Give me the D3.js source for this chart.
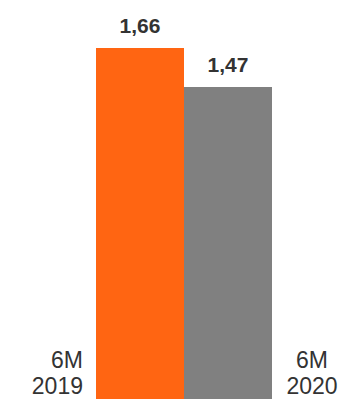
<!DOCTYPE html>
<html>
<head>
<meta charset="utf-8">
<script src="https://cdn.jsdelivr.net/npm/d3@7"></script>
<style>
  html, body { margin: 0; padding: 0; background: #fff; }
  svg { display: block; }
</style>
</head>
<body>
<svg id="chart" width="341" height="399" shape-rendering="crispEdges"></svg>
<script>
const categories = ["6M 2019", "6M 2020"];
const values = [1.66, 1.47];
const valueLabels = ["1,66", "1,47"];
const colors = ["#FF6512", "#808080"];

const W = 341, H = 399;
const svg = d3.select("#chart");

const x = d3.scaleBand().domain(categories).range([96, 272]).paddingInner(0).paddingOuter(0);
const y = d3.scaleLinear().domain([-0.05, 1.66]).range([H, 48]);

svg.selectAll("rect.bar")
  .data(categories)
  .enter().append("rect")
  .attr("class", "bar")
  .attr("x", d => x(d))
  .attr("width", x.bandwidth())
  .attr("y", (d, i) => y(values[i]))
  .attr("height", (d, i) => H - y(values[i]))
  .attr("fill", (d, i) => colors[i]);

svg.selectAll("text.val")
  .data(categories)
  .enter().append("text")
  .attr("class", "val")
  .attr("x", d => x(d) + x.bandwidth() / 2)
  .attr("y", (d, i) => y(values[i]) - 15)
  .attr("text-anchor", "middle")
  .attr("font-family", "Liberation Sans, Arial, sans-serif")
  .attr("font-weight", "bold")
  .attr("font-size", 21)
  .attr("fill", "#333")
  .attr("shape-rendering", "auto")
  .text((d, i) => valueLabels[i]);

// category labels
const catFont = "Liberation Sans, Arial, sans-serif";
categories.forEach((c, i) => {
  const parts = c.split(" ");
  const left = i === 0;
  const t = svg.append("text")
    .attr("font-family", catFont)
    .attr("font-size", 23)
    .attr("fill", "#333")
    .attr("text-anchor", left ? "end" : "middle");
  const xPos = left ? x(c) - 13 : x(c) + x.bandwidth() + 40;
  parts.forEach((p, j) => {
    t.append("tspan")
      .attr("x", xPos)
      .attr("y", 368 + j * 26)
      .text(p);
  });
});
</script>
</body>
</html>
